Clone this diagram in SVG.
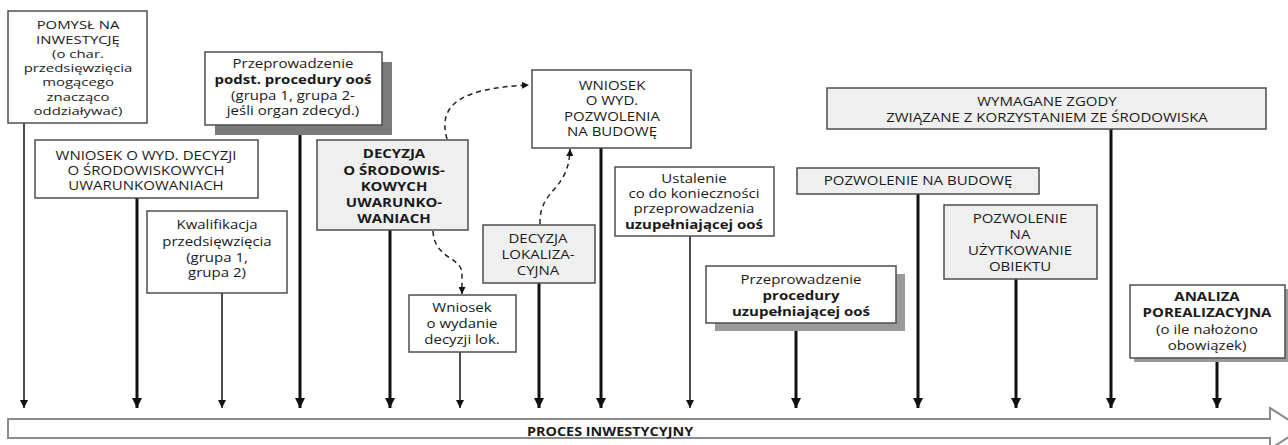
<svg xmlns="http://www.w3.org/2000/svg" width="1288" height="445" viewBox="0 0 1288 445">
<defs>
<marker id="ah" viewBox="0 0 10 10" refX="10" refY="5" markerWidth="10" markerHeight="10" markerUnits="userSpaceOnUse" orient="auto"><path d="M0,0 L10,5 L0,10 z" fill="#111"/></marker>
<marker id="ahs" viewBox="0 0 10 10" refX="10" refY="5" markerWidth="8" markerHeight="8" markerUnits="userSpaceOnUse" orient="auto"><path d="M0,0 L10,5 L0,10 z" fill="#111"/></marker>
<marker id="ahd" viewBox="0 0 10 10" refX="10" refY="5" markerWidth="7" markerHeight="7" markerUnits="userSpaceOnUse" orient="auto"><path d="M0,0 L10,5 L0,10 z" fill="#111"/></marker>
</defs>
<style>
.box{fill:#fff;stroke:#4d4d4d;stroke-width:1.5}
.gbox{fill:#efefef;stroke:#4d4d4d;stroke-width:1.5}
.sh1{fill:#7a7a7a}
.sh2{fill:#9a9a9a}
text{font-family:"Open Sans","Liberation Sans",sans-serif;font-size:12.5px;fill:#1a1a1a;text-anchor:middle}
.sm{font-size:11.3px}
.b{font-weight:bold}
.thick{stroke:#111;stroke-width:3;fill:none;marker-end:url(#ah)}
.thin{stroke:#111;stroke-width:1.5;fill:none;marker-end:url(#ahs)}
.dash{stroke:#222;stroke-width:1.5;fill:none;stroke-dasharray:5 4;marker-end:url(#ahd)}
.big{fill:#fff;stroke:#8c8c8c;stroke-width:2}
</style>

<g id="process-arrow">
<polygon class="big" points="8,419 1270,419 1270,408 1302,428.5 1270,449 1270,438 8,438"/>
<g transform="translate(610,0) scale(1.2,1)"><text class="b" y="436" style="font-size:12px">PROCES INWESTYCYJNY</text></g>
</g>

<g id="connectors">
<line class="thin" x1="24" y1="123" x2="24" y2="408"/>
<line class="thick" x1="137" y1="198" x2="137" y2="408"/>
<line class="thin" x1="222" y1="293" x2="222" y2="408"/>
<line class="thick" x1="300" y1="135" x2="300" y2="408"/>
<line class="thick" x1="390" y1="230" x2="390" y2="408"/>
<line class="thin" x1="460" y1="352" x2="460" y2="408"/>
<line class="thick" x1="539" y1="283" x2="539" y2="408"/>
<line class="thick" x1="601" y1="148" x2="601" y2="408"/>
<line class="thin" x1="690" y1="236" x2="690" y2="408"/>
<line class="thick" x1="796" y1="331" x2="796" y2="408"/>
<line class="thick" x1="918" y1="194" x2="918" y2="408"/>
<line class="thick" x1="1016" y1="279" x2="1016" y2="408"/>
<line class="thick" x1="1111" y1="129" x2="1111" y2="408"/>
<line class="thick" x1="1217" y1="362" x2="1217" y2="408"/>
<path class="dash" d="M447,139 C437,104 462,88 529,85"/>
<path class="dash" d="M433,231 C434,258 460,257 462,272 L462,294"/>
<path class="dash" d="M540,224 C539,188 569,192 570,149"/>
</g>

<g id="pomysl">
<rect class="box" x="8" y="11" width="139" height="112"/>
<g transform="translate(78,0) scale(1.32,1)">
<text class="sm" y="29.5">POMYSŁ NA</text>
<text class="sm" y="43.8">INWESTYCJĘ</text>
<text class="sm" y="58">(o char.</text>
<text class="sm" y="72.3">przedsięwzięcia</text>
<text class="sm" y="86.5">mogącego</text>
<text class="sm" y="100.8">znacząco</text>
<text class="sm" y="115">oddziaływać)</text>
</g>
</g>

<g id="wniosek-decyzja">
<rect class="box" x="35" y="140" width="223" height="58"/>
<g transform="translate(146,0) scale(1.2,1)">
<text y="160">WNIOSEK O WYD. DECYZJI</text>
<text y="175">O ŚRODOWISKOWYCH</text>
<text y="190">UWARUNKOWANIACH</text>
</g>
</g>

<g id="kwalifikacja">
<rect class="box" x="147" y="211" width="140" height="82"/>
<g transform="translate(217,0) scale(1.2,1)">
<text y="229">Kwalifikacja</text>
<text y="246">przedsięwzięcia</text>
<text y="262">(grupa 1,</text>
<text y="277">grupa 2)</text>
</g>
</g>

<g id="procedura-podst">
<rect class="sh1" x="215" y="62" width="177" height="73"/>
<rect class="box" x="205" y="52" width="177" height="73"/>
<g transform="translate(293,0) scale(1.2,1)">
<text y="68">Przeprowadzenie</text>
<text y="84" class="b">podst. procedury ooś</text>
<text y="100">(grupa 1, grupa 2-</text>
<text y="115">jeśli organ zdecyd.)</text>
</g>
</g>

<g id="decyzja-srod">
<rect class="gbox" x="317" y="140" width="151" height="90"/>
<g transform="translate(394,0) scale(1.2,1)">
<text y="158" class="b">DECYZJA</text>
<text y="175" class="b">O ŚRODOWIS-</text>
<text y="191" class="b">KOWYCH</text>
<text y="207" class="b">UWARUNKO-</text>
<text y="223" class="b">WANIACH</text>
</g>
</g>

<g id="wniosek-lok">
<rect class="box" x="409" y="295" width="107" height="57"/>
<g transform="translate(462,0) scale(1.2,1)">
<text y="312">Wniosek</text>
<text y="328">o wydanie</text>
<text y="344">decyzji lok.</text>
</g>
</g>

<g id="decyzja-lok">
<rect class="gbox" x="483" y="225" width="112" height="58"/>
<g transform="translate(538,0) scale(1.2,1)">
<text y="243">DECYZJA</text>
<text y="259">LOKALIZA-</text>
<text y="275">CYJNA</text>
</g>
</g>

<g id="wniosek-pozwolenie">
<rect class="box" x="532" y="70" width="159" height="78"/>
<g transform="translate(612,0) scale(1.2,1)">
<text y="90">WNIOSEK</text>
<text y="105">O WYD.</text>
<text y="121">POZWOLENIA</text>
<text y="136">NA BUDOWĘ</text>
</g>
</g>

<g id="ustalenie">
<rect class="box" x="615" y="167" width="159" height="69"/>
<g transform="translate(694,0) scale(1.2,1)">
<text y="183">Ustalenie</text>
<text y="198">co do konieczności</text>
<text y="213">przeprowadzenia</text>
<text y="229" class="b">uzupełniającej ooś</text>
</g>
</g>

<g id="procedura-uzup">
<rect class="sh2" x="715" y="274" width="190" height="57"/>
<rect class="box" x="706" y="266" width="190" height="57"/>
<g transform="translate(801,0) scale(1.2,1)">
<text y="284">Przeprowadzenie</text>
<text y="300" class="b">procedury</text>
<text y="316" class="b">uzupełniającej ooś</text>
</g>
</g>

<g id="wymagane-zgody">
<rect class="gbox" x="827" y="88" width="439" height="41"/>
<g transform="translate(1047,0) scale(1.2,1)">
<text y="106">WYMAGANE ZGODY</text>
<text y="122">ZWIĄZANE Z KORZYSTANIEM ZE ŚRODOWISKA</text>
</g>
</g>

<g id="pozwolenie-budowa">
<rect class="gbox" x="797" y="168" width="242" height="26"/>
<g transform="translate(918,0) scale(1.2,1)">
<text y="185.5">POZWOLENIE NA BUDOWĘ</text>
</g>
</g>

<g id="pozwolenie-uzytkowanie">
<rect class="gbox" x="944" y="205" width="153" height="74"/>
<g transform="translate(1020,0) scale(1.2,1)">
<text y="223.5">POZWOLENIE</text>
<text y="239.5">NA</text>
<text y="255.5">UŻYTKOWANIE</text>
<text y="271.5">OBIEKTU</text>
</g>
</g>

<g id="analiza">
<rect class="sh2" x="1134" y="289" width="155" height="73"/>
<rect class="box" x="1130" y="285" width="155" height="73"/>
<g transform="translate(1207,0) scale(1.2,1)">
<text y="301.5" class="b">ANALIZA</text>
<text y="317.5" class="b">POREALIZACYJNA</text>
<text y="334.5">(o ile nałożono</text>
<text y="350.5">obowiązek)</text>
</g>
</g>
</svg>
